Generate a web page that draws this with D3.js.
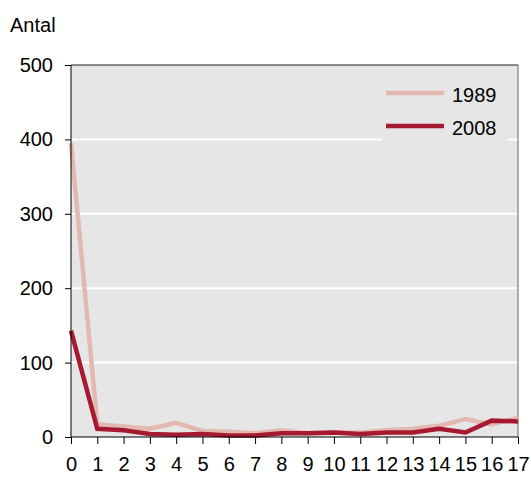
<!DOCTYPE html>
<html>
<head>
<meta charset="utf-8">
<script src="https://cdn.jsdelivr.net/npm/d3@7"></script>
<style>
body { margin: 0; background: #fff; }
text { font-family: "Liberation Sans", Arial, sans-serif; fill: #000; }
</style>
</head>
<body>
<svg id="chart" width="531" height="477"></svg>
<script>
const width = 531;
const height = 477;

const ages = d3.range(0, 18);
const values1989 = [395, 17, 14, 11, 19, 8, 7, 5, 9, 5, 6, 6, 9, 11, 15, 24, 17, 26];
const values2008 = [143, 11, 9, 4, 3, 4, 2, 2, 5, 5, 6, 4, 6, 6, 11, 6, 22, 21];
const yTicks = [0, 100, 200, 300, 400, 500];
const seriesNames = ["1989", "2008"];
const seriesColors = ["#e3b8b0", "#a51a30"];

const margin = { left: 71, right: 13, top: 65, bottom: 40 };

const svg = d3.select("#chart");

const xScale = d3.scaleLinear().domain([0, 17]).range([margin.left, width - margin.right]);
const yScale = d3.scaleLinear().domain([0, 500]).range([height - margin.bottom, margin.top]);

// plot background
svg.append("rect")
    .attr("x", xScale(0))
    .attr("y", yScale(500))
    .attr("width", xScale(17) - xScale(0))
    .attr("height", yScale(0) - yScale(500))
    .attr("fill", "#e6e6e6");

// gridlines
svg.selectAll(".grid").data(yTicks.filter(d => d > 0 && d < 500)).enter()
    .append("line")
    .attr("x1", xScale(0))
    .attr("x2", xScale(17))
    .attr("y1", d => yScale(d))
    .attr("y2", d => yScale(d))
    .attr("stroke", "#fff")
    .attr("stroke-width", 2);

// frame top and right
svg.append("line")
    .attr("x1", xScale(0)).attr("x2", xScale(17))
    .attr("y1", yScale(500)).attr("y2", yScale(500))
    .attr("stroke", "#222");
svg.append("line")
    .attr("x1", xScale(17)).attr("x2", xScale(17))
    .attr("y1", yScale(500)).attr("y2", yScale(0))
    .attr("stroke", "#666");

// legend background covers gridline
svg.append("rect")
    .attr("x", 382)
    .attr("y", 76)
    .attr("width", 126)
    .attr("height", 66)
    .attr("fill", "#e6e6e6");

// lines
const line = d3.line()
    .x((d, i) => xScale(ages[i]))
    .y(d => yScale(d));

[values1989, values2008].forEach(function (vals, k) {
    svg.append("path")
        .datum(vals)
        .attr("d", line)
        .attr("fill", "none")
        .attr("stroke", seriesColors[k])
        .attr("stroke-width", 4.5)
        .attr("stroke-linejoin", "miter");
});

// axes
const yAxis = d3.axisLeft(yScale).tickValues(yTicks).tickSize(6).tickPadding(12);
const xAxis = d3.axisBottom(xScale).tickValues(ages).tickSize(7).tickPadding(13);

const gy = svg.append("g")
    .attr("transform", `translate(${xScale(0)},0)`)
    .call(yAxis);
const gx = svg.append("g")
    .attr("transform", `translate(0,${yScale(0)})`)
    .call(xAxis);

[gx, gy].forEach(function (g) {
    g.select(".domain").attr("stroke", "#000");
    g.selectAll(".tick line").attr("stroke", "#000");
    g.selectAll(".tick text")
        .style("font-family", "'Liberation Sans', Arial, sans-serif")
        .style("font-size", "20px")
        .attr("fill", "#000");
});
gx.select(".domain").attr("d", `M${xScale(0)},0H${xScale(17)}`);
gy.select(".domain").attr("d", `M0,${yScale(0)}V${yScale(500)}`);

// y axis title
svg.append("text")
    .attr("x", 10)
    .attr("y", 32)
    .style("font-size", "20px")
    .text("Antal");

// legend
seriesNames.forEach(function (name, i) {
    const ly = 93 + i * 33;
    svg.append("line")
        .attr("x1", 386)
        .attr("x2", 444)
        .attr("y1", ly)
        .attr("y2", ly)
        .attr("stroke", seriesColors[i])
        .attr("stroke-width", 4.5);
    svg.append("text")
        .attr("x", 452)
        .attr("y", ly + 9)
        .style("font-size", "20px")
        .text(name);
});
</script>
</body>
</html>
